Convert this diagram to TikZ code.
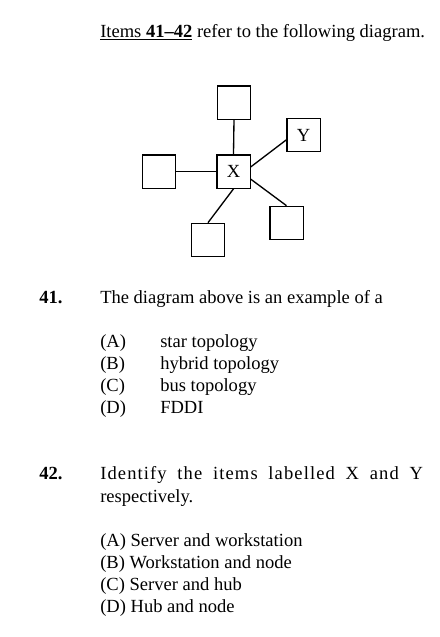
\documentclass[tikz,border=0pt]{standalone}
\usepackage{fontspec}
\setmainfont{Liberation Serif}
\usepackage{tikz}
\usetikzlibrary{positioning}
\newcommand{\qsize}{\fontsize{13.9}{16.5}\selectfont}

\begin{document}
\begin{tikzpicture}[x=0.75pt, y=-0.75pt,
    station/.style={draw, line width=1pt, minimum size=25pt, inner sep=0pt, font=\qsize},
    link/.style={line width=1pt},
    txt/.style={anchor=base west, inner sep=0pt, font=\qsize}]
    \useasboundingbox (0, 0) rectangle (440, 637);
    \node[txt] (head) at (100, 37) {\underline{Items \textbf{41--42}} refer to the following diagram.};
    % the star
    \node[station] (X) at (233.5, 171.5) {X};
    \node[station] (top) at (234, 102.5) {};
    \node[station] (Y) at (303.5, 135) {Y};
    \node[station] (left) at (159, 171.5) {};
    \node[station] (right) at (286.5, 223) {};
    \node[station] (bottom) at (208, 240) {};
    \draw[link] (X.north) -- (top.south);
    \draw[link] (X.west) -- (left.east);
    \draw[link] (X.15) -- (Y.196);
    \draw[link] (X.336) -- (right.north);
    \draw[link] (X.south) -- (bottom.north);
    % question 41
    \node[txt] (q1) at (39, 303) {\textbf{41.}};
    \node[txt] (q1t) at (100, 303) {The diagram above is an example of a};
    \node[txt] (q1a) at (100, 347) {(A)};
    \node[txt] (q1b) at (100, 369) {(B)};
    \node[txt] (q1c) at (100, 391) {(C)};
    \node[txt] (q1d) at (100, 413) {(D)};
    \node[txt] (q1at) at (160, 347) {star topology};
    \node[txt] (q1bt) at (160, 369) {hybrid topology};
    \node[txt] (q1ct) at (160, 391) {bus topology};
    \node[txt] (q1dt) at (160, 413) {FDDI};
    % question 42
    \node[txt] (q2) at (39, 479) {\textbf{42.}};
    \node[txt] (q2t) at (100, 479) {\makebox[242pt][s]{\addfontfeature{LetterSpace=6}Identify the items labelled X and Y}};
    \node[txt] (q2u) at (100, 502) {respectively.};
    \node[txt] (q2a) at (100, 546) {(A) Server and workstation};
    \node[txt] (q2b) at (100, 568) {(B) Workstation and node};
    \node[txt] (q2c) at (100, 590) {(C) Server and hub};
    \node[txt] (q2d) at (100, 612) {(D) Hub and node};
\end{tikzpicture}
\end{document}
